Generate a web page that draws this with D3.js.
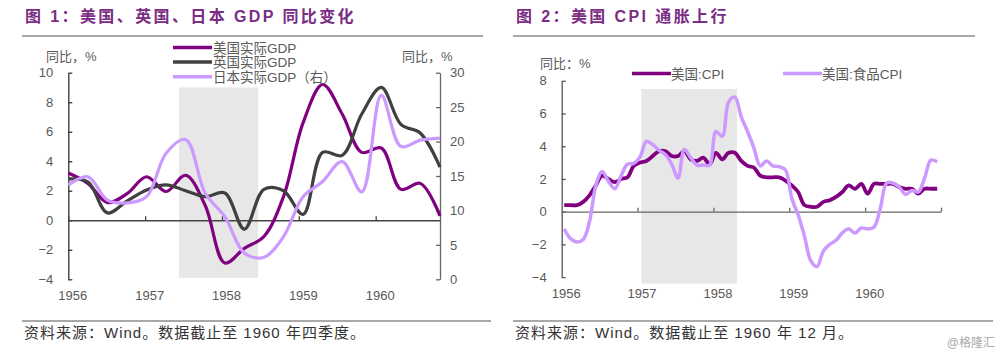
<!DOCTYPE html>
<html>
<head>
<meta charset="utf-8">
<script src="https://cdn.jsdelivr.net/npm/d3@7"></script>
<style>
  body { margin: 0; background: #fff; }
  svg text { font-family: "Liberation Sans", Arial, "Noto Sans CJK SC", sans-serif; }
</style>
</head>
<body>
<div id="chart"></div>
<script>
// ---- data: figure 1 (quarterly, 1956Q1 - 1960Q4) ----
const quarters = ["1956Q1","1956Q2","1956Q3","1956Q4","1957Q1","1957Q2","1957Q3","1957Q4",
                  "1958Q1","1958Q2","1958Q3","1958Q4","1959Q1","1959Q2","1959Q3","1959Q4",
                  "1960Q1","1960Q2","1960Q3","1960Q4"];
const usGdp = [3.2, 2.5, 1.2, 1.8, 2.95, 1.95, 3.05, 1.0, -2.9, -1.9, -1.1, 1.6, 6.6, 9.2, 7.2, 4.6, 4.9, 2.1, 2.5, 0.3];
const ukGdp = [2.8, 2.6, 0.5, 1.3, 2.05, 2.4, 2.0, 1.6, 1.85, -0.6, 2.1, 2.0, 0.4, 4.6, 4.4, 7.2, 9.0, 6.5, 5.9, 3.6];
const jpGdp = [13.7, 14.9, 11.5, 11.1, 12.0, 18.3, 20.3, 12.5, 9.1, 3.8, 3.2, 6.2, 12.0, 14.2, 17.1, 12.7, 26.7, 19.3, 20.2, 20.5];
const gdpNames = ["美国实际GDP", "英国实际GDP", "日本实际GDP（右）"];
const gdpLeftTicks = [-4, -2, 0, 2, 4, 6, 8, 10];
const gdpRightTicks = [0, 5, 10, 15, 20, 25, 30];
const years = [1956, 1957, 1958, 1959, 1960];
const gdpShade = {from: 1957.44, to: 1958.47, top: 9, bottom: -3.9};

// ---- data: figure 2 (monthly, Jan 1956 - Dec 1960) ----
const usCpi = [0.4, 0.4, 0.4, 0.6, 1.0, 1.6, 2.2, 2.0, 1.8, 2.0, 2.1, 2.8,
               3.0, 3.1, 3.4, 3.7, 3.7, 3.4, 3.4, 3.7, 3.2, 3.1, 3.3, 2.9,
               3.6, 3.2, 3.6, 3.6, 3.1, 2.8, 2.7, 2.2, 2.1, 2.1, 2.1, 1.9,
               1.6, 1.2, 0.4, 0.3, 0.3, 0.6, 0.7, 0.9, 1.2, 1.6, 1.4, 1.7,
               1.1, 1.7, 1.7, 1.7, 1.7, 1.5, 1.4, 1.4, 1.1, 1.4, 1.4, 1.4];
const usFoodCpi = [-1.06, -1.65, -1.85, -1.7, -0.6, 1.6, 2.45, 1.85, 1.4, 2.2, 2.9, 2.95,
                   3.35, 4.3, 4.1, 3.75, 3.5, 2.9, 2.05, 3.8, 3.3, 2.85, 2.85, 2.85,
                   4.9, 4.6, 6.7, 7.0, 5.8, 4.9, 3.9, 2.8, 3.1, 2.8, 2.75, 2.55,
                   0.8, -0.2, -1.5, -3.0, -3.35, -2.4, -2.0, -1.75, -1.3, -1.05, -1.3, -1.0,
                   -1.05, -0.95, 0.2, 1.75, 1.75, 1.5, 1.05, 1.3, 1.2, 2.05, 3.15, 3.05];
const cpiNames = ["美国:CPI", "美国:食品CPI"];
const cpiTicks = [-4, -2, 0, 2, 4, 6, 8];
const cpiShade = {from: 1957.05, to: 1958.31, top: 7.5, bottom: -4.4};

const purple = "#800080", darkGrey = "#404040", lilac = "#CC99FF";
const textGrey = "#595959";

const svg = d3.select("#chart").append("svg")
    .attr("width", 1000)
    .attr("height", 354);

svg.append("rect").attr("width", 1000).attr("height", 354).attr("fill", "#fff");

// titles + rules
function frame(x0, x1, bx1, title, note) {
    svg.append("text")
        .attr("x", x0 + 3).attr("y", 22)
        .style("font-size", "16px").style("font-weight", "bold")
        .style("letter-spacing", "2.4px")
        .attr("fill", "#7B2C83")
        .text(title);
    svg.append("line").attr("x1", x0).attr("x2", x1).attr("y1", 36).attr("y2", 36)
        .attr("stroke", "#8c8c8c").attr("stroke-width", 1.5);
    svg.append("line").attr("x1", x0).attr("x2", bx1).attr("y1", 321).attr("y2", 321)
        .attr("stroke", "#8c8c8c").attr("stroke-width", 1.5);
    svg.append("text")
        .attr("x", x0 + 2).attr("y", 338)
        .style("font-size", "15px")
        .style("letter-spacing", "1px")
        .attr("fill", "#333")
        .text(note);
}
frame(22, 483, 491, "图 1：美国、英国、日本 GDP 同比变化", "资料来源：Wind。数据截止至 1960 年四季度。");
frame(513, 975, 993, "图 2：美国 CPI 通胀上行", "资料来源：Wind。数据截止至 1960 年 12 月。");

svg.append("text").attr("x", 995).attr("y", 347).attr("text-anchor", "end")
    .style("font-size", "12px").attr("fill", "#aaa").text("@格隆汇");

// ================= figure 1 =================
let g1 = svg.append("g");
let x1Year = d3.scaleLinear().domain([1956, 1960.837]).range([68.3, 440]);
let x1 = d3.scalePoint().domain(quarters).range([68.3, 440]);
let y1L = d3.scaleLinear().domain([-4, 10]).range([279.3, 72.7]);
let y1R = d3.scaleLinear().domain([0, 30]).range([279.3, 72.7]);

g1.append("rect")
    .attr("x", x1Year(gdpShade.from))
    .attr("width", x1Year(gdpShade.to) - x1Year(gdpShade.from))
    .attr("y", y1L(gdpShade.top))
    .attr("height", y1L(gdpShade.bottom) - y1L(gdpShade.top))
    .attr("fill", "#e7e7e7");

function styleAxis(sel, color) {
    sel.select(".domain").attr("stroke", color).attr("stroke-width", 1.3);
    sel.selectAll(".tick line").attr("stroke", color).attr("stroke-width", 1.3);
    sel.selectAll(".tick text").attr("fill", textGrey).style("font-size", "13px");
}

g1.append("g")
    .attr("transform", "translate(68.3,0)")
    .call(d3.axisLeft(y1L).tickValues(gdpLeftTicks).tickSize(-4).tickSizeOuter(0).tickPadding(15))
    .call(s => styleAxis(s, "#333"));

g1.append("g")
    .attr("transform", "translate(440,0)")
    .call(d3.axisRight(y1R).tickValues(gdpRightTicks).tickSize(-4).tickSizeOuter(0).tickPadding(10))
    .call(s => styleAxis(s, "#666"));

g1.append("g")
    .attr("transform", "translate(0," + y1L(0) + ")")
    .call(d3.axisBottom(x1Year).tickValues(years).tickFormat("").tickSize(-4).tickSizeOuter(0))
    .call(s => styleAxis(s, "#444"));

g1.append("g")
    .attr("transform", "translate(4,288)")
    .call(d3.axisBottom(x1Year).tickValues(years).tickFormat(d3.format("d")).tickSize(0))
    .call(s => s.select(".domain").remove())
    .call(s => styleAxis(s, textGrey));

let lineL = d3.line().x((d, i) => x1(quarters[i])).y(d => y1L(d)).curve(d3.curveCatmullRom.alpha(0.5));
let lineR = d3.line().x((d, i) => x1(quarters[i])).y(d => y1R(d)).curve(d3.curveCatmullRom.alpha(0.5));

g1.append("path").datum(usGdp).attr("d", lineL).attr("fill", "none").attr("stroke", purple).attr("stroke-width", 3.2);
g1.append("path").datum(ukGdp).attr("d", lineL).attr("fill", "none").attr("stroke", darkGrey).attr("stroke-width", 3.2);
g1.append("path").datum(jpGdp).attr("d", lineR).attr("fill", "none").attr("stroke", lilac).attr("stroke-width", 3.2);

g1.append("text").attr("x", 46).attr("y", 61).style("font-size", "13px").attr("fill", textGrey).text("同比，%");
g1.append("text").attr("x", 402).attr("y", 61).style("font-size", "13px").attr("fill", textGrey).text("同比，%");

// legend
let legColors1 = [purple, darkGrey, lilac];
gdpNames.forEach(function (name, i) {
    let yy = 47.5 + i * 14.6;
    g1.append("line").attr("x1", 173).attr("x2", 212).attr("y1", yy).attr("y2", yy)
        .attr("stroke", legColors1[i]).attr("stroke-width", 3.5);
    g1.append("text").attr("x", 213).attr("y", yy + 5).style("font-size", "13.5px")
        .attr("fill", textGrey).text(name);
});

// ================= figure 2 =================
let g2 = svg.append("g");
let x2 = d3.scaleLinear().domain([1956, 1961]).range([561.7, 941]);
let y2 = d3.scaleLinear().domain([-4, 8]).range([277.1, 80.8]);
let monthT = i => 1956 + (i + 0.4) / 12;

g2.append("rect")
    .attr("x", x2(cpiShade.from))
    .attr("width", x2(cpiShade.to) - x2(cpiShade.from))
    .attr("y", y2(cpiShade.top))
    .attr("height", y2(cpiShade.bottom) - y2(cpiShade.top))
    .attr("fill", "#e7e7e7");

g2.append("g")
    .attr("transform", "translate(561.7,0)")
    .call(d3.axisLeft(y2).tickValues(cpiTicks).tickSize(-4).tickSizeOuter(0).tickPadding(15))
    .call(s => styleAxis(s, "#555"));

g2.append("g")
    .attr("transform", "translate(0," + y2(0) + ")")
    .call(d3.axisBottom(x2).tickValues([1957, 1958, 1959, 1960, 1961]).tickFormat("").tickSize(-4).tickSizeOuter(0))
    .call(s => styleAxis(s, "#666"));

g2.append("g")
    .attr("transform", "translate(4,286)")
    .call(d3.axisBottom(x2).tickValues(years).tickFormat(d3.format("d")).tickSize(0))
    .call(s => s.select(".domain").remove())
    .call(s => styleAxis(s, textGrey));

let line2 = d3.line().x((d, i) => x2(monthT(i))).y(d => y2(d)).curve(d3.curveCatmullRom.alpha(0.5));

g2.append("path").datum(usCpi).attr("d", line2).attr("fill", "none").attr("stroke", purple).attr("stroke-width", 3.8);
g2.append("path").datum(usFoodCpi).attr("d", line2).attr("fill", "none").attr("stroke", lilac).attr("stroke-width", 3.5);

g2.append("text").attr("x", 540).attr("y", 68).style("font-size", "13px").attr("fill", textGrey).text("同比：%");

let legColors2 = [purple, lilac];
let legX2 = [632, 783];
cpiNames.forEach(function (name, i) {
    g2.append("line").attr("x1", legX2[i]).attr("x2", legX2[i] + 39).attr("y1", 73.5).attr("y2", 73.5)
        .attr("stroke", legColors2[i]).attr("stroke-width", 3.5);
    g2.append("text").attr("x", legX2[i] + 39).attr("y", 78.5).style("font-size", "13.5px")
        .attr("fill", textGrey).text(name);
});
</script>
</body>
</html>
